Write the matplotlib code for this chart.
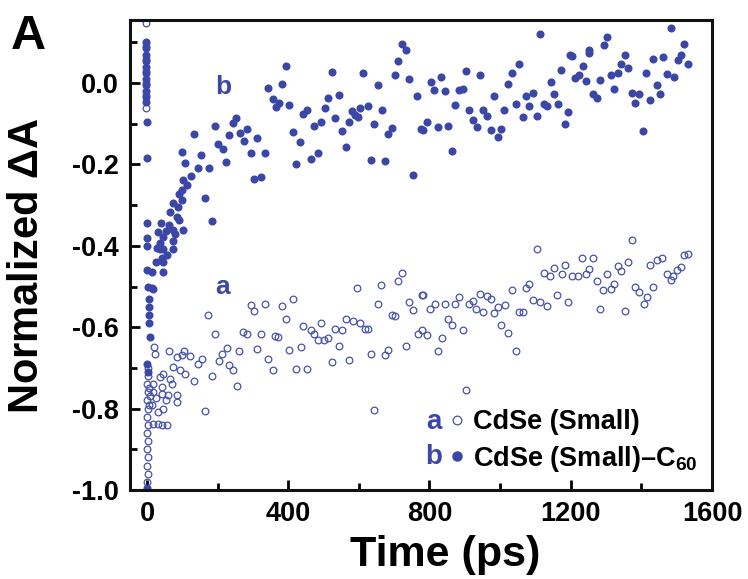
import matplotlib
matplotlib.use("Agg")
import matplotlib.pyplot as plt
from matplotlib.ticker import MultipleLocator

plt.rcParams["font.family"] = ["Liberation Sans", "DejaVu Sans"]
plt.rcParams["font.weight"] = "bold"
plt.rcParams["axes.unicode_minus"] = False
plt.rcParams["mathtext.fontset"] = "custom"
plt.rcParams["mathtext.rm"] = "Liberation Sans"
plt.rcParams["mathtext.default"] = "regular"

# series a : CdSe (Small)  -- open circles
a_time = [
    -3, -4, -2, -4, -2, -4, -3,
    2, 4, 1, 3, 0, 2, 1, 3, 0, 2, 1, 3, 0, 2, 1, 0, 6, 8, 5,
    174, 294, 303, 334, 193, 271, 282, 323, 363, 226, 261, 312, 20, 23, 63,
    84, 98, 105, 122, 155, 212, 205, 145, 233, 244, 344, 356, 183, 254, 133,
    164, 75, 93, 108, 46, 37, 65, 70, 18, 42, 18, 42, 60, 84, 84, 54, 27, 46,
    32, 32, 42, 57, 16, 15,
    723, 712, 663, 594, 780, 414, 383, 653, 743, 752, 693, 702, 394, 493, 563,
    583, 603, 617, 625, 443, 464, 474, 532, 553, 513, 485, 502, 372, 768, 778,
    435, 403, 544, 683, 674, 633, 733, 573, 523, 423, 453, 644,
    1104, 1184, 1153, 1124, 1141, 1174, 1083, 1073, 1033, 1162, 1191, 1094,
    1113, 1134, 783, 884, 943, 964, 974, 922, 913, 816, 844, 872, 801, 932,
    952, 995, 1014, 983, 1054, 1064, 853, 863, 1003, 1023, 894, 794, 835, 823,
    1044, 903,
    1373, 1531, 1522, 1233, 1264, 1443, 1457, 1363, 1424, 1333, 1512, 1252,
    1342, 1500, 1203, 1220, 1242, 1302, 1472, 1484, 1490, 1274, 1323, 1382,
    1434, 1292, 1314, 1393, 1415, 1406, 1283, 1354,
]
a_dA = [
    0.147, 0.09, 0.06, 0.03, 0.0, -0.03, -0.062,
    -0.70, -0.72, -0.74, -0.76, -0.78, -0.80, -0.82, -0.84, -0.86, -0.88,
    -0.90, -0.92, -0.94, -0.96, -0.98, -1.0, -0.75, -0.77, -0.79,
    -0.571, -0.546, -0.560, -0.544, -0.617, -0.612, -0.617, -0.617, -0.622,
    -0.650, -0.658, -0.653, -0.649, -0.665, -0.658, -0.673, -0.669, -0.658,
    -0.671, -0.677, -0.667, -0.683, -0.690, -0.694, -0.706, -0.677, -0.706,
    -0.720, -0.745, -0.733, -0.805, -0.698, -0.706, -0.714, -0.714, -0.722,
    -0.726, -0.739, -0.739, -0.747, -0.759, -0.763, -0.767, -0.767, -0.784,
    -0.780, -0.775, -0.800, -0.808, -0.839, -0.841, -0.841, -0.837, -0.790,
    -0.467, -0.486, -0.497, -0.503, -0.522, -0.531, -0.548, -0.544, -0.538,
    -0.558, -0.571, -0.573, -0.579, -0.590, -0.581, -0.585, -0.590, -0.604,
    -0.604, -0.598, -0.606, -0.617, -0.604, -0.608, -0.626, -0.631, -0.632,
    -0.624, -0.616, -0.608, -0.649, -0.655, -0.646, -0.655, -0.669, -0.665,
    -0.646, -0.681, -0.685, -0.702, -0.702, -0.804,
    -0.409, -0.448, -0.454, -0.467, -0.475, -0.470, -0.495, -0.503, -0.508,
    -0.522, -0.538, -0.532, -0.538, -0.549, -0.522, -0.526, -0.519, -0.524,
    -0.530, -0.536, -0.542, -0.542, -0.544, -0.544, -0.554, -0.554, -0.563,
    -0.550, -0.546, -0.565, -0.563, -0.563, -0.581, -0.595, -0.595, -0.614,
    -0.608, -0.620, -0.626, -0.658, -0.658, -0.755,
    -0.385, -0.421, -0.423, -0.431, -0.431, -0.434, -0.431, -0.440, -0.446,
    -0.450, -0.452, -0.456, -0.462, -0.459, -0.473, -0.475, -0.470, -0.468,
    -0.468, -0.483, -0.473, -0.486, -0.493, -0.500, -0.500, -0.508, -0.505,
    -0.513, -0.526, -0.544, -0.554, -0.560,
]

# series b : CdSe (Small)-C60  -- filled circles
b_time = [
    -4, -2, -4, -2, -4, -2, -4, -2, -4, -2, -3, -1, -1, 0, -1, 0, 0, 2, 5, 5,
    5, 5, 10, 0, 2, 0,
    13, 18, 13, 37, 46, 46, 27,
    343, 356, 365, 252, 243, 193, 233, 263, 284, 275, 313, 133, 202, 214, 294,
    334, 100, 153, 108, 224, 144, 175, 303, 324, 125, 103, 112, 98, 91, 164,
    98, 73, 89, 65, 84, 91, 183, 39, 63, 73, 103, 54, 32, 79, 46, 75, 37, 29,
    46, 75, 56, 42,
    723, 733, 712, 394, 523, 613, 702, 743, 383, 653, 544, 513, 764, 374, 403,
    504, 603, 625, 452, 443, 581, 589, 597, 665, 532, 493, 572, 473, 644, 693,
    683, 776, 414, 553, 433, 563, 483, 464, 423, 633, 674, 752,
    1113, 1198, 1054, 903, 1172, 1033, 833, 943, 803, 1023, 1143, 814, 844,
    884, 894, 983, 1094, 1073, 1153, 872, 913, 952, 962, 1012, 1044, 1083,
    1124, 1134, 1163, 1192, 792, 783, 825, 853, 922, 934, 973, 1003, 993,
    1064, 1104, 1184, 863,
    1484, 1302, 1293, 1252, 1252, 1522, 1203, 1354, 1434, 1462, 1512, 1505,
    1533, 1234, 1342, 1363, 1212, 1223, 1243, 1283, 1313, 1333, 1413, 1472,
    1493, 1323, 1443, 1264, 1274, 1373, 1393, 1382, 1424, 1453, 1404,
]
b_dA = [
    0.100, 0.085, 0.070, 0.055, 0.040, 0.025, 0.010, -0.005, -0.020, -0.035,
    -0.047, -0.096, -0.185, -0.345, -0.38, -0.40, -0.46, -0.50, -0.53, -0.55,
    -0.57, -0.59, -0.625, -0.69, -0.71, -0.995,
    -0.464, -0.505, -0.504, -0.407, -0.44, -0.464, -0.44,
    -0.012, -0.038, -0.060, -0.085, -0.098, -0.106, -0.127, -0.123, -0.114,
    -0.143, -0.134, -0.124, -0.149, -0.161, -0.173, -0.172, -0.170, -0.176,
    -0.196, -0.194, -0.208, -0.208, -0.236, -0.232, -0.229, -0.237, -0.251,
    -0.264, -0.273, -0.283, -0.288, -0.295, -0.305, -0.317, -0.329, -0.336,
    -0.339, -0.344, -0.350, -0.360, -0.362, -0.364, -0.366, -0.370, -0.378,
    -0.388, -0.393, -0.405, -0.409, -0.409, -0.423, -0.429,
    0.095, 0.082, 0.053, 0.043, 0.027, 0.025, 0.021, 0.011, -0.002, -0.006,
    -0.030, -0.036, -0.033, -0.049, -0.055, -0.061, -0.061, -0.057, -0.067,
    -0.075, -0.069, -0.079, -0.083, -0.067, -0.085, -0.096, -0.096, -0.106,
    -0.100, -0.110, -0.124, -0.114, -0.120, -0.119, -0.146, -0.156, -0.171,
    -0.186, -0.200, -0.188, -0.192, -0.227,
    0.121, 0.068, 0.048, 0.030, 0.031, 0.025, 0.016, 0.019, 0.002, -0.002,
    0.002, -0.018, -0.020, -0.018, -0.014, -0.033, -0.025, -0.033, -0.028,
    -0.055, -0.067, -0.067, -0.082, -0.067, -0.051, -0.057, -0.052, -0.057,
    -0.051, -0.071, -0.096, -0.116, -0.108, -0.106, -0.092, -0.108, -0.115,
    -0.112, -0.133, -0.083, -0.082, -0.101, -0.168,
    0.136, 0.112, 0.093, 0.082, 0.074, 0.095, 0.066, 0.068, 0.060, 0.064,
    0.068, 0.056, 0.048, 0.043, 0.048, 0.037, 0.013, 0.019, 0.005, 0.008,
    0.019, 0.025, 0.025, 0.023, 0.015, -0.014, -0.006, -0.026, -0.036, -0.025,
    -0.026, -0.049, -0.041, -0.028, -0.119,
]

blue = "#3a47a6"

fig = plt.figure(figsize=(7.48, 5.79), dpi=100)
ax = fig.add_axes([0.1738, 0.1537, 0.7781, 0.8118])

la, = ax.plot(a_time, a_dA, "o", ms=4.8, mfc="none", mec="#4651ad", mew=0.9,
              label="CdSe (Small)")
lb, = ax.plot(b_time, b_dA, "o", ms=5.8, color=blue, mec=blue, mew=0,
              label="CdSe (Small)–C$_{60}$")

ax.set_xlim(-48, 1600)
ax.set_ylim(-1.0, 0.155)
ax.xaxis.set_major_locator(MultipleLocator(400))
ax.xaxis.set_minor_locator(MultipleLocator(200))
ax.yaxis.set_major_locator(MultipleLocator(0.2))
ax.yaxis.set_minor_locator(MultipleLocator(0.1))
ax.yaxis.set_major_formatter(plt.FormatStrFormatter("%.1f"))

ax.tick_params(which="both", direction="in", width=2, labelsize=19.5, pad=8)
ax.tick_params(which="major", length=7)
ax.tick_params(which="minor", length=5)
for s in ax.spines.values():
    s.set_linewidth(2.2)
    s.set_color("#111111")

ax.set_xlabel("Time (ps)", fontsize=31, fontweight="bold")
ax.xaxis.set_label_coords(0.541, -0.095)
ax.set_ylabel("Normalized $\\Delta$A", fontsize=30, fontweight="bold")
ax.yaxis.set_label_coords(-0.143, 0.477)

ax.text(215, -0.01, "b", color=blue, fontsize=19, fontweight="bold",
        ha="center", va="center")
ax.text(215, -0.50, "a", color=blue, fontsize=19, fontweight="bold",
        ha="center", va="center")

leg = ax.legend(handles=[la, lb], loc="lower left", bbox_to_anchor=(0.548, 0.035),
                frameon=False, fontsize=19.5, handlelength=0.6, handletextpad=0.3,
                borderpad=0, borderaxespad=0, labelspacing=0.3, markerscale=1.3)
for txt in leg.get_texts():
    txt.set_fontweight("bold")
ax.text(0.522, 0.145, "a", transform=ax.transAxes, color=blue, fontsize=20,
        fontweight="bold", ha="center", va="center")
ax.text(0.522, 0.07, "b", transform=ax.transAxes, color=blue, fontsize=20,
        fontweight="bold", ha="center", va="center")

fig.text(0.015, 0.915, "A", fontsize=35, fontweight="bold")

fig.savefig("out.png", dpi=100)
